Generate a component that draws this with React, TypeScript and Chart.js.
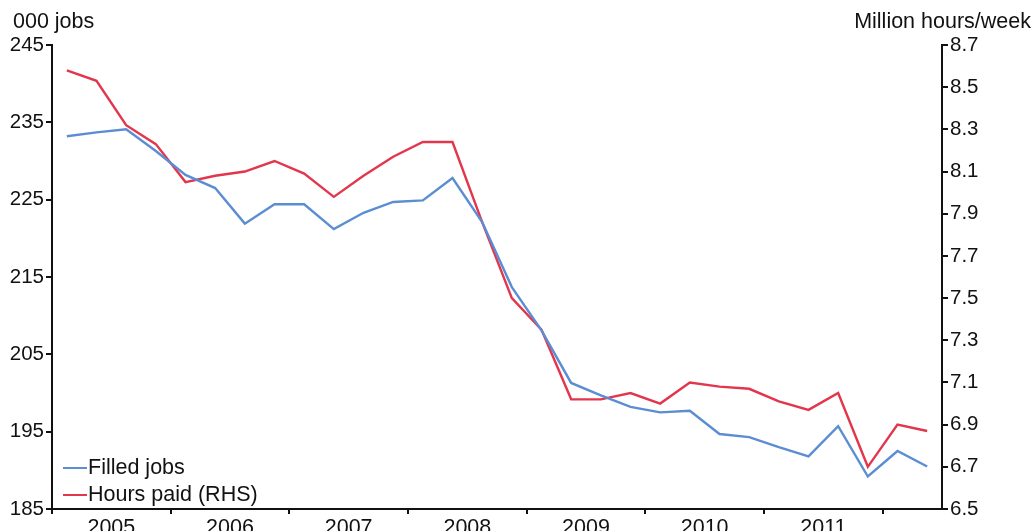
import React, { useEffect, useRef } from "react";
import { Chart, registerables } from "chart.js";

Chart.register(...registerables);

// Quarterly, 2005 Q1 .. 2012 Q2
const quarters = [
  "2005Q1","2005Q2","2005Q3","2005Q4",
  "2006Q1","2006Q2","2006Q3","2006Q4",
  "2007Q1","2007Q2","2007Q3","2007Q4",
  "2008Q1","2008Q2","2008Q3","2008Q4",
  "2009Q1","2009Q2","2009Q3","2009Q4",
  "2010Q1","2010Q2","2010Q3","2010Q4",
  "2011Q1","2011Q2","2011Q3","2011Q4",
  "2012Q1","2012Q2",
];
const filledJobs = [
  233.2, 233.7, 234.1, 231.3, 228.2, 226.5, 221.9, 224.4, 224.4, 221.2,
  223.3, 224.7, 224.9, 227.8, 222.1, 213.7, 208.1, 201.3, 199.7, 198.2,
  197.5, 197.7, 194.7, 194.3, 193.0, 191.8, 195.7, 189.2, 192.5, 190.5,
];
const hoursPaid = [
  8.58, 8.53, 8.32, 8.23, 8.05, 8.08, 8.10, 8.15, 8.09, 7.98,
  8.08, 8.17, 8.24, 8.24, 7.86, 7.50, 7.35, 7.02, 7.02, 7.05,
  7.00, 7.10, 7.08, 7.07, 7.01, 6.97, 7.05, 6.70, 6.90, 6.87,
];
const years = ["2005", "2006", "2007", "2008", "2009", "2010", "2011"];
const leftTicks = [185, 195, 205, 215, 225, 235, 245];
const rightTicks = [6.5, 6.7, 6.9, 7.1, 7.3, 7.5, 7.7, 7.9, 8.1, 8.3, 8.5, 8.7];

const BLUE = "#5b8dd3";
const RED = "#e3354c";
const FONT = "'Liberation Sans', Arial, sans-serif";

export default function App() {
  const ref = useRef<HTMLCanvasElement | null>(null);

  useEffect(() => {
    if (!ref.current) return;
    const overlay = {
      id: "overlay",
      afterDraw(chart: any) {
        const ctx = chart.ctx;
        const area = chart.chartArea;
        ctx.save();
        ctx.fillStyle = "#111";
        ctx.font = `21.5px ${FONT}`;
        ctx.textBaseline = "middle";
        ctx.textAlign = "left";
        ctx.fillText("000 jobs", 13, 22);
        ctx.textAlign = "right";
        ctx.fillText("Million hours/week", 1031, 22);
        // legend
        const items = [
          { label: "Filled jobs", color: BLUE, y: 468 },
          { label: "Hours paid (RHS)", color: RED, y: 495 },
        ];
        ctx.textAlign = "left";
        items.forEach((it) => {
          ctx.strokeStyle = it.color;
          ctx.lineWidth = 2;
          ctx.beginPath();
          ctx.moveTo(area.left + 11, it.y);
          ctx.lineTo(area.left + 35, it.y);
          ctx.stroke();
          ctx.fillStyle = "#111";
          ctx.fillText(it.label, area.left + 36, it.y);
        });
        ctx.restore();
      },
    };

    const chart = new Chart(ref.current, {
      type: "line",
      data: {
        datasets: [
          {
            label: "Filled jobs",
            data: filledJobs.map((v, i) => ({ x: i + 0.5, y: v })),
            borderColor: BLUE,
            borderWidth: 2.4,
            pointRadius: 0,
            yAxisID: "y",
            tension: 0,
          },
          {
            label: "Hours paid (RHS)",
            data: hoursPaid.map((v, i) => ({ x: i + 0.5, y: v })),
            borderColor: RED,
            borderWidth: 2.4,
            pointRadius: 0,
            yAxisID: "y1",
            tension: 0,
          },
        ],
      },
      options: {
        animation: false,
        responsive: false,
        maintainAspectRatio: false,
        layout: { padding: { top: 45, left: 0, right: 0, bottom: 0 } },
        plugins: {
          legend: { display: false },
          tooltip: { enabled: false },
          title: { display: false },
        },
        scales: {
          x: {
            type: "linear",
            min: 0,
            max: quarters.length,
            afterBuildTicks: (scale: any) => {
              const t: any[] = [];
              for (let v = 0; v <= quarters.length; v += 2) t.push({ value: v });
              scale.ticks = t;
            },
            afterFit: (scale: any) => {
              scale.height = 22;
            },
            ticks: {
              autoSkip: false,
              maxRotation: 0,
              padding: 1,
              color: "#111",
              font: { family: FONT, size: 21.5 },
              callback: (v: any) => {
                const n = Number(v);
                if (n % 4 === 2) {
                  const idx = (n - 2) / 4;
                  return idx < years.length ? years[idx] : "";
                }
                return "";
              },
            },
            grid: {
              drawOnChartArea: false,
              drawTicks: true,
              tickLength: 5,
              lineWidth: 2,
              tickColor: (c: any) =>
                c.tick && c.tick.value % 4 === 0 && c.tick.value < quarters.length
                  ? "#111"
                  : "rgba(0,0,0,0)",
            },
            border: { display: true, color: "#111", width: 2 },
          },
          y: {
            type: "linear",
            position: "left",
            min: 185,
            max: 245,
            afterBuildTicks: (scale: any) => {
              scale.ticks = leftTicks.map((v) => ({ value: v }));
            },
            afterFit: (scale: any) => {
              scale.width = 52;
            },
            ticks: {
              padding: 2,
              color: "#111",
              font: { family: FONT, size: 20.5 },
              callback: (v: any) => String(v),
            },
            grid: {
              drawOnChartArea: false,
              drawTicks: true,
              tickLength: 6,
              lineWidth: 2,
              tickColor: "#111",
            },
            border: { display: true, color: "#111", width: 2 },
          },
          y1: {
            type: "linear",
            position: "right",
            min: 6.5,
            max: 8.7,
            afterBuildTicks: (scale: any) => {
              scale.ticks = rightTicks.map((v) => ({ value: v }));
            },
            afterFit: (scale: any) => {
              scale.width = 92;
            },
            ticks: {
              padding: 2,
              color: "#111",
              font: { family: FONT, size: 20.5 },
              callback: (v: any) => Number(v).toFixed(1),
            },
            grid: {
              drawOnChartArea: false,
              drawTicks: true,
              tickLength: 6,
              lineWidth: 2,
              tickColor: "#111",
            },
            border: { display: true, color: "#111", width: 2 },
          },
        },
      },
      plugins: [overlay],
    });
    return () => chart.destroy();
  }, []);

  return (
    <div style={{ position: "fixed", left: 0, top: 0, width: 1034, height: 531, background: "#fff" }}>
      <canvas ref={ref} width={1034} height={531} style={{ width: 1034, height: 531, display: "block" }} />
    </div>
  );
}
